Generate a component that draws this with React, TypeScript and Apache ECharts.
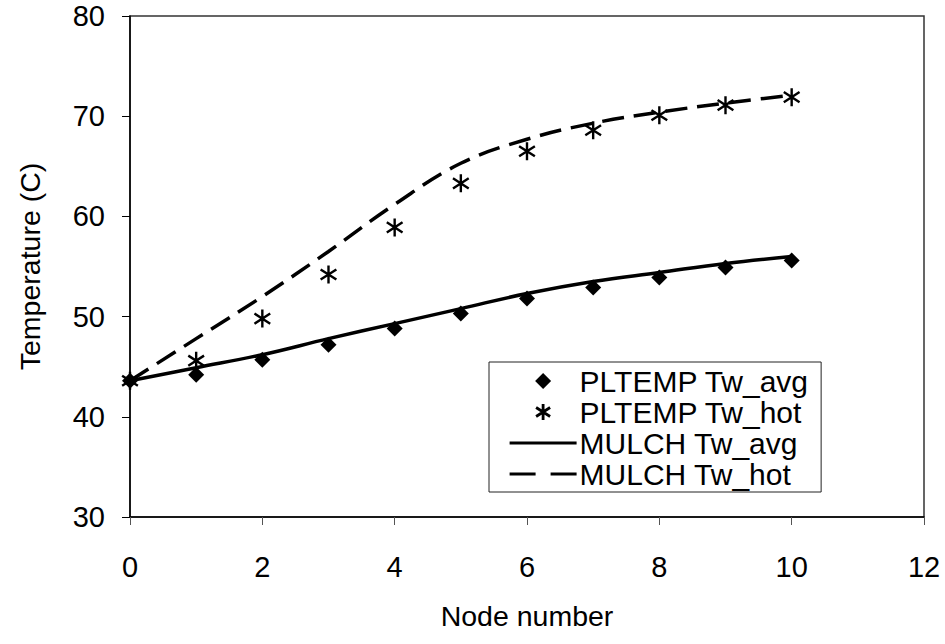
import React, { useEffect, useRef } from "react";
import * as echarts from "echarts";

const nodes = [0, 1, 2, 3, 4, 5, 6, 7, 8, 9, 10];
const pltempAvg = [43.6, 44.2, 45.7, 47.2, 48.8, 50.3, 51.8, 52.9, 53.9, 54.9, 55.6];
const pltempHot = [43.6, 45.6, 49.8, 54.2, 58.9, 63.3, 66.5, 68.6, 70.1, 71.1, 71.9];
const mulchAvg = [43.6, 44.9, 46.2, 47.8, 49.3, 50.8, 52.3, 53.5, 54.4, 55.3, 56.0];
const mulchHot = [43.6, 47.8, 52.0, 56.5, 61.2, 65.3, 67.7, 69.3, 70.4, 71.3, 72.1];
const seriesNames = ["PLTEMP Tw_avg", "PLTEMP Tw_hot", "MULCH Tw_avg", "MULCH Tw_hot"];

const FONT = "'Liberation Sans', Arial, sans-serif";
const ASTERISK = "path://M1,3.5L15,12.5M15,3.5L1,12.5M8,0L8,16";
const DIAMOND = "path://M8,0L16,8L8,16L0,8Z";

const pairs = (ys: number[]) => nodes.map((x, i) => [x, ys[i]]);

export default function App() {
  const ref = useRef<HTMLDivElement>(null);
  useEffect(() => {
    if (!ref.current) return;
    const chart = echarts.init(ref.current, undefined, { renderer: "svg" });
    const hideSym = { color: "rgba(0,0,0,0)", borderWidth: 0, borderColor: "rgba(0,0,0,0)" };
    chart.setOption({
      animation: false,
      backgroundColor: "#fff",
      textStyle: { fontFamily: FONT, color: "#000" },
      grid: {
        left: 130,
        right: 21,
        top: 16,
        bottom: 127,
        show: true,
        borderColor: "#333",
        borderWidth: 1.5,
      },
      xAxis: {
        type: "value",
        min: 0,
        max: 12,
        interval: 2,
        name: "Node number",
        nameLocation: "middle",
        nameGap: 84,
        nameTextStyle: { fontSize: 28.5, color: "#000", fontFamily: FONT },
        axisLine: { lineStyle: { color: "#000", width: 1.5 } },
        axisTick: { show: true, length: 8, lineStyle: { color: "#555", width: 1 } },
        axisLabel: { fontSize: 29, color: "#000", margin: 35, fontFamily: FONT },
        splitLine: { show: false },
      },
      yAxis: {
        type: "value",
        min: 30,
        max: 80,
        interval: 10,
        name: "Temperature (C)",
        nameLocation: "middle",
        nameGap: 86,
        nameTextStyle: { fontSize: 28.5, color: "#000", fontFamily: FONT },
        axisLine: { show: true, lineStyle: { color: "#000", width: 1.5 } },
        axisTick: { show: true, length: 8, lineStyle: { color: "#000", width: 1 } },
        axisLabel: { fontSize: 29, color: "#000", margin: 25, fontFamily: FONT },
        splitLine: { show: false },
      },
      legend: {
        orient: "vertical",
        left: 489,
        top: 362,
        itemWidth: 67,
        itemHeight: 16,
        itemGap: 1,
        symbolKeepAspect: true,
        padding: [4, 12, 3, 19],
        borderColor: "#222",
        borderWidth: 1,
        backgroundColor: "#fff",
        textStyle: { fontSize: 30, color: "#000", fontFamily: FONT, padding: [0, 0, 0, -2] },
        data: [
          { name: seriesNames[0] },
          { name: seriesNames[1], itemStyle: { borderWidth: 2.8, borderColor: "#000" } },
          { name: seriesNames[2], itemStyle: hideSym, lineStyle: { width: 3.2, color: "#000" } },
          { name: seriesNames[3], itemStyle: hideSym, lineStyle: { width: 3.2, color: "#000", type: [26, 15] } },
        ],
      },
      series: [
        {
          name: seriesNames[2],
          type: "line",
          data: pairs(mulchAvg),
          smooth: 0.4,
          symbol: "none",
          lineStyle: { color: "#000", width: 3.5, type: "solid" },
          itemStyle: { color: "#000" },
          z: 2,
        },
        {
          name: seriesNames[3],
          type: "line",
          data: pairs(mulchHot),
          smooth: 0.4,
          symbol: "none",
          lineStyle: { color: "#000", width: 3.5, type: [22, 10] },
          itemStyle: { color: "#000" },
          z: 2,
        },
        {
          name: seriesNames[0],
          type: "scatter",
          data: pairs(pltempAvg),
          symbol: DIAMOND,
          symbolSize: 16,
          symbolKeepAspect: true,
          itemStyle: { color: "#000", opacity: 1 },
          z: 3,
        },
        {
          name: seriesNames[1],
          type: "scatter",
          data: pairs(pltempHot),
          symbol: ASTERISK,
          symbolSize: 18,
          symbolKeepAspect: true,
          itemStyle: { color: "rgba(0,0,0,0)", borderColor: "#000", borderWidth: 2.4, opacity: 1 },
          z: 4,
        },
      ],
    });
    return () => chart.dispose();
  }, []);
  return (
    <div
      ref={ref}
      style={{ position: "fixed", left: 0, top: 0, width: 945, height: 644, background: "#fff" }}
    />
  );
}
